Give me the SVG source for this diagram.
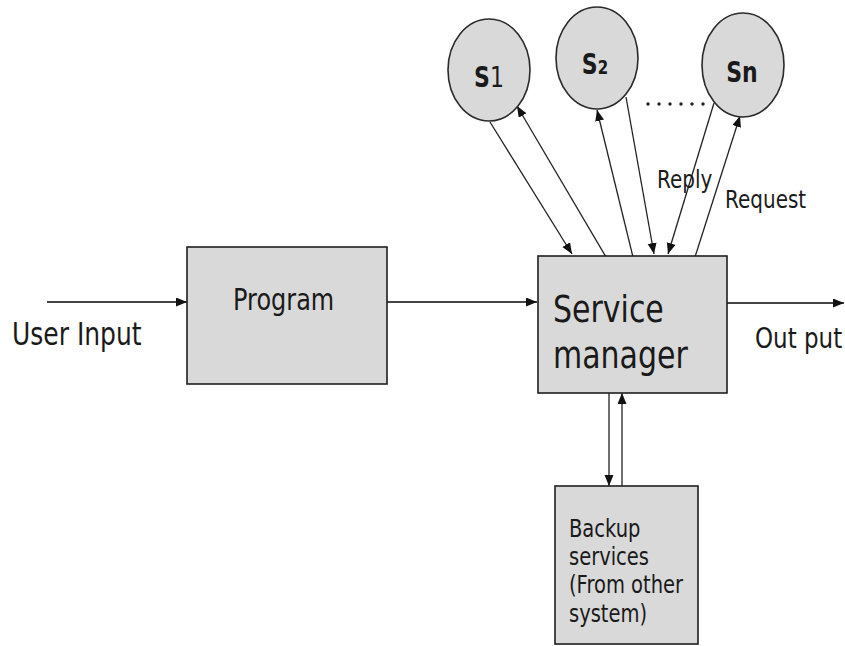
<svg xmlns="http://www.w3.org/2000/svg" width="845" height="646" viewBox="0 0 845 646">
  <style>
    .box { fill: #d9d9d9; stroke: #1e1e1e; stroke-width: 1.6; }
    .svc { fill: #d9d9d9; stroke: #2a2a2a; stroke-width: 1.6; }
    .flow { stroke: #444; stroke-width: 2; fill: none; }
    .link { stroke: #222; stroke-width: 1.3; fill: none; }
    .lbl { font-family: "DejaVu Sans", "Liberation Sans", sans-serif; fill: #1a1a1a; }
    .svct { font-family: "DejaVu Sans", "Liberation Sans", sans-serif; fill: #1a1a1a; text-anchor: middle; }
  </style>
  <defs>
    <marker id="arrow" markerUnits="userSpaceOnUse" markerWidth="12" markerHeight="10" refX="11" refY="4.5" orient="auto">
      <path d="M0,0 L11,4.5 L0,9 z" fill="#111"/>
    </marker>
  </defs>
  <rect width="845" height="646" fill="#ffffff"/>

  <!-- connectors -->
  <g id="connectors">
    <line class="flow" x1="47" y1="302" x2="187" y2="302" marker-end="url(#arrow)"/>
    <line class="flow" x1="387" y1="302" x2="537" y2="302" marker-end="url(#arrow)"/>
    <line class="flow" x1="727" y1="303" x2="844" y2="303" marker-end="url(#arrow)"/>
    <!-- service manager <-> backup -->
    <line class="link" x1="609" y1="393" x2="609" y2="486" marker-end="url(#arrow)"/>
    <line class="link" x1="622" y1="490" x2="622" y2="393" marker-end="url(#arrow)"/>
    <!-- service manager <-> services -->
    <line class="link" x1="490" y1="122" x2="572" y2="254" marker-end="url(#arrow)"/>
    <line class="link" x1="606" y1="257" x2="517" y2="106" marker-end="url(#arrow)"/>
    <line class="link" x1="633" y1="257" x2="597" y2="110" marker-end="url(#arrow)"/>
    <line class="link" x1="626" y1="97" x2="654" y2="254" marker-end="url(#arrow)"/>
    <line class="link" x1="714" y1="103" x2="668" y2="254" marker-end="url(#arrow)"/>
    <line class="link" x1="695" y1="257" x2="740" y2="116" marker-end="url(#arrow)"/>
    <g fill="#222">
      <circle cx="648" cy="104" r="1.7"/>
      <circle cx="659" cy="104" r="1.7"/>
      <circle cx="670" cy="104" r="1.7"/>
      <circle cx="681" cy="104" r="1.7"/>
      <circle cx="692" cy="104" r="1.7"/>
      <circle cx="703" cy="104" r="1.7"/>
    </g>
    <text class="lbl" font-size="20" transform="translate(657,188) scale(1,1.25)">Reply</text>
    <text class="lbl" font-size="20" transform="translate(725,208) scale(1,1.25)">Request</text>
    <text class="lbl" font-size="25" transform="translate(12,345) scale(1,1.25)">User Input</text>
    <text class="lbl" font-size="23" transform="translate(755,348) scale(1,1.25)">Out put</text>
  </g>

  <g id="program">
    <rect class="box" x="187" y="247" width="200" height="137"/>
    <text class="lbl" font-size="24" transform="translate(233,310) scale(1,1.25)">Program</text>
  </g>

  <g id="service-manager">
    <rect class="box" x="538" y="256" width="189" height="137"/>
    <text class="lbl" font-size="30" transform="translate(553,322) scale(1,1.25)">Service</text>
    <text class="lbl" font-size="30" transform="translate(553,368) scale(1,1.25)">manager</text>
  </g>

  <g id="backup-services">
    <rect class="box" x="555" y="486" width="143" height="158"/>
    <text class="lbl" font-size="19.5" transform="translate(569,537) scale(1,1.25)">Backup</text>
    <text class="lbl" font-size="19.5" transform="translate(569,565) scale(1,1.25)">services</text>
    <text class="lbl" font-size="19.5" transform="translate(569,593) scale(1,1.25)">(From other</text>
    <text class="lbl" font-size="19.5" transform="translate(569,622) scale(1,1.25)">system)</text>
  </g>

  <g id="s1">
    <ellipse class="svc" cx="489" cy="70" rx="41" ry="51"/>
    <text class="svct" font-size="22" transform="translate(489,87) scale(1,1.25)"><tspan font-weight="bold">S</tspan><tspan>1</tspan></text>
  </g>

  <g id="s2">
    <ellipse class="svc" cx="597" cy="58" rx="41" ry="51"/>
    <text class="svct" font-size="22" transform="translate(595,74) scale(1,1.25)"><tspan font-weight="bold">S</tspan><tspan font-size="15" font-weight="bold">2</tspan></text>
  </g>

  <g id="sn">
    <ellipse class="svc" cx="743" cy="65" rx="41" ry="52"/>
    <text class="svct" font-size="22" font-weight="bold" transform="translate(742,82) scale(1,1.25)">Sn</text>
  </g>
</svg>
